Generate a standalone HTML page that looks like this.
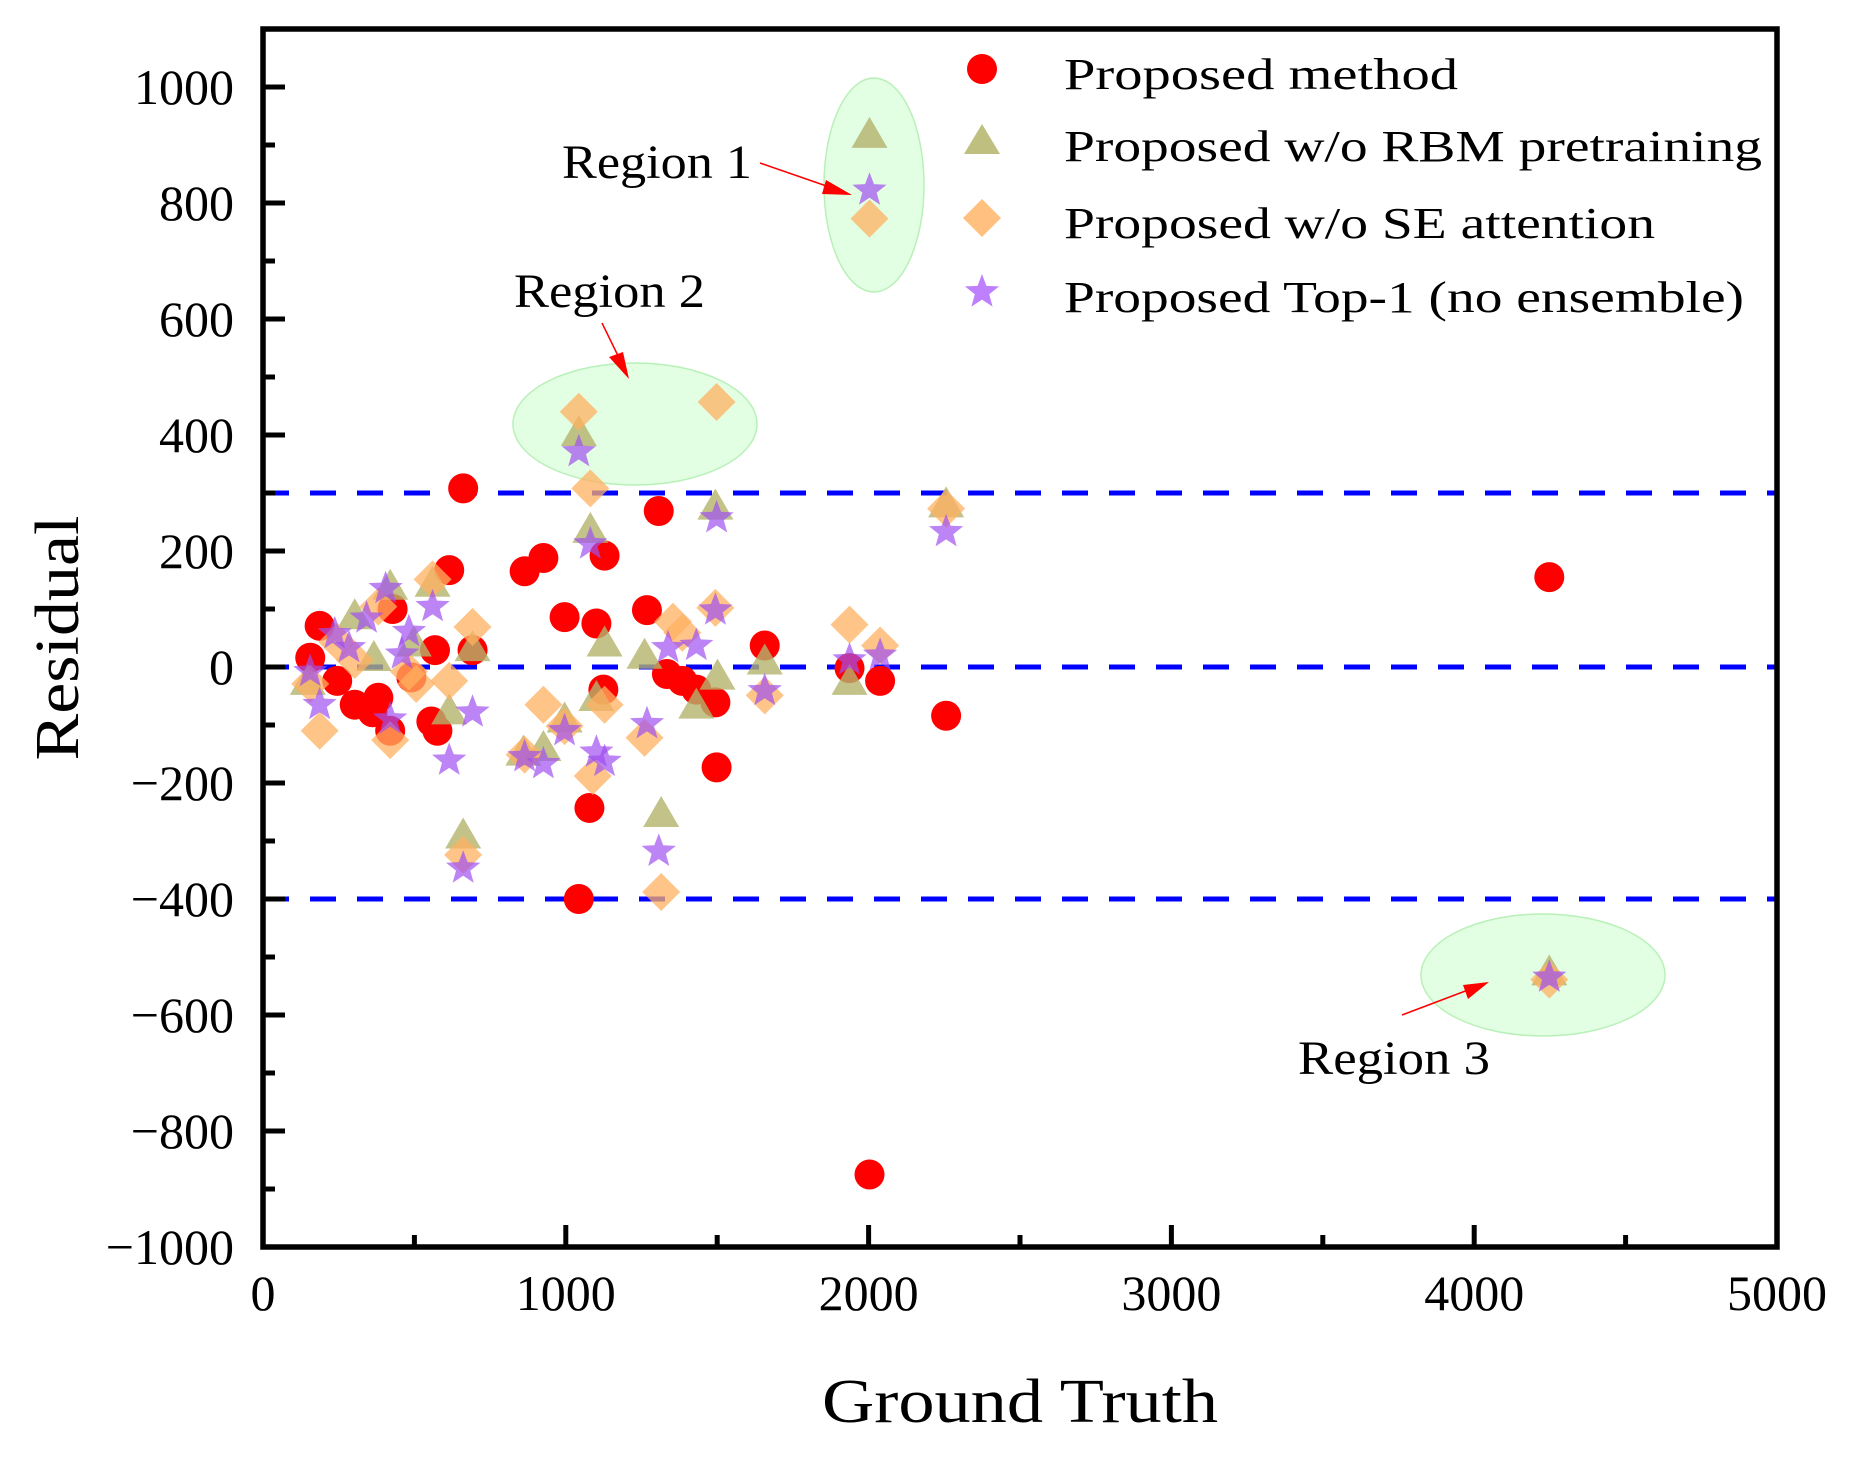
<!DOCTYPE html>
<html><head><meta charset="utf-8"><style>
html,body{margin:0;padding:0;background:#fff;}
svg{display:block;font-family:"Liberation Serif",serif;}
</style></head><body>
<svg id="chart" width="1849" height="1458" viewBox="0 0 1849 1458" xmlns="http://www.w3.org/2000/svg">
<g id="regions">
<ellipse cx="874" cy="185" rx="50" ry="107" fill="#ccffcc" fill-opacity="0.55" stroke="#b8f0b8" stroke-width="1.5"/>
<ellipse cx="635" cy="424" rx="122" ry="61" fill="#ccffcc" fill-opacity="0.55" stroke="#b8f0b8" stroke-width="1.5"/>
<ellipse cx="1543" cy="975" rx="122" ry="61" fill="#ccffcc" fill-opacity="0.55" stroke="#b8f0b8" stroke-width="1.5"/>
</g>
<g id="reflines"></g>
<g id="marks"></g>
<g id="axes"></g>
<g id="annot">
<text x="562" y="178" font-size="48" textLength="190" lengthAdjust="spacingAndGlyphs">Region 1</text>
<line x1="760" y1="163" x2="838" y2="190" stroke="#f00" stroke-width="1.5"/>
<polygon points="852,195 822,194 826,180" fill="#f00"/>
<text x="514" y="307" font-size="48" textLength="191" lengthAdjust="spacingAndGlyphs">Region 2</text>
<line x1="602" y1="323" x2="624" y2="368" stroke="#f00" stroke-width="1.5"/>
<polygon points="629,379 609,357 623,352" fill="#f00"/>
<text x="1298" y="1074" font-size="48" textLength="192" lengthAdjust="spacingAndGlyphs">Region 3</text>
<line x1="1402" y1="1015" x2="1476" y2="987" stroke="#f00" stroke-width="1.5"/>
<polygon points="1489,982 1468,999 1463,985" fill="#f00"/>
</g>
<g id="legend">
<circle cx="982" cy="69" r="15" fill="#ff0000"/>
<text x="1064" y="89" font-size="44" textLength="394" lengthAdjust="spacingAndGlyphs">Proposed method</text>
<polygon points="982,124 1000,154 964,154" fill="#bfbf80"/>
<text x="1064" y="161" font-size="44" textLength="698" lengthAdjust="spacingAndGlyphs">Proposed w/o RBM pretraining</text>
<polygon points="982,199 1001,218 982,237 963,218" fill="#ffc080"/>
<text x="1064" y="238" font-size="44" textLength="591" lengthAdjust="spacingAndGlyphs">Proposed w/o SE attention</text>
<g id="legstar"></g>
<text x="1064" y="312" font-size="44" textLength="680" lengthAdjust="spacingAndGlyphs">Proposed Top-1 (no ensemble)</text>
</g>
<text x="1020" y="1422" font-size="62" text-anchor="middle" textLength="396" lengthAdjust="spacingAndGlyphs">Ground Truth</text>
<text x="0" y="0" font-size="62" text-anchor="middle" transform="translate(78,638) rotate(-90)" textLength="245" lengthAdjust="spacingAndGlyphs">Residual</text>
</svg>
<script>
const xTicks = [0, 1000, 2000, 3000, 4000, 5000];
const yTicks = [-1000, -800, -600, -400, -200, 0, 200, 400, 600, 800, 1000];
const refLines = [300, 0, -400];
const redX = [156,187,245,303,362,381,420,428,490,556,576,568,615,661,692,864,926,996,1043,1078,1101,1128,1124,1268,1307,1334,1385,1431,1494,1498,1657,1937,2003,2038,2256,4248];
const redY = [16,71,-24,-65,-78,-53,-110,100,-18,-94,-110,29,167,308,29,165,188,86,-400,-243,75,192,-39,98,269,-12,-24,-39,-61,-173,37,-2,-875,-24,-84,155];
const triX = [560,615,661,692,420,303,148,860,926,996,1043,1081,1128,1101,1260,1315,1431,1494,1501,1657,1937,2003,2256,4248,498,366];
const triY = [140,-80,-294,29,135,84,-29,-151,-143,-94,400,233,37,-57,16,-257,-70,273,-20,6,-29,914,277,-530,37,12];
const diaX = [156,187,245,303,420,482,560,615,661,692,864,926,996,1043,1081,1089,1128,1260,1315,1354,1385,1494,1498,1657,1937,2003,2038,2256,4248,381,506];
const diaY = [-29,-110,43,12,-126,-8,151,-24,-324,69,-151,-65,-102,440,308,-188,-65,-122,-388,78,59,102,457,-49,73,773,37,273,-539,104,-29];
const starX = [156,187,237,284,342,405,420,459,482,560,615,661,692,864,926,996,1043,1081,1101,1128,1268,1307,1338,1431,1494,1498,1657,1937,2003,2038,2256,4248];
const starY = [-8,-65,57,33,84,135,-90,22,61,104,-161,-347,-78,-155,-167,-110,371,212,-147,-163,-98,-318,33,37,98,257,-41,12,822,20,233,-535];

const NS = 'http://www.w3.org/2000/svg';
const L = 263, R = 1777, T = 29, B = 1247;
const sx = v => L + v * (R - L) / 5000;
const sy = v => 87 + (1000 - v) * 0.58;
function mk(tag, attrs, parent) {
  const e = document.createElementNS(NS, tag);
  for (const k in attrs) e.setAttribute(k, attrs[k]);
  parent.appendChild(e);
  return e;
}
function starPts(cx, cy, r) {
  const p = [];
  for (let i = 0; i < 10; i++) {
    const rr = i % 2 ? r * 0.42 : r;
    const a = -Math.PI / 2 + i * Math.PI / 5;
    p.push((cx + rr * Math.cos(a)).toFixed(1) + ',' + (cy + rr * Math.sin(a)).toFixed(1));
  }
  return p.join(' ');
}
const legStar = mk('polygon', {points: starPts(982, 292, 18), fill: '#bf80ff'}, document.getElementById('legstar'));



const refG = document.getElementById('reflines');
refLines.forEach(v => {
  const l = mk('line', {x1: L, x2: R, y1: sy(v), y2: sy(v), stroke: '#0000ff', 'stroke-width': 5, 'stroke-dasharray': '26 21'}, refG);
  
  
});

const g = document.getElementById('marks');
redX.forEach((x, i) => {
  const c = mk('circle', {cx: sx(x), cy: sy(redY[i]), r: 15, fill: '#ff0000'}, g);
  
  
});
triX.forEach((x, i) => {
  const cx = sx(x), cy = sy(triY[i]);
  const t = mk('polygon', {points: `${cx},${cy-20} ${cx+18},${cy+11} ${cx-18},${cy+11}`, fill: '#b3b36b', 'fill-opacity': 0.8}, g);
  
  
});
diaX.forEach((x, i) => {
  const cx = sx(x), cy = sy(diaY[i]);
  const d = mk('polygon', {points: `${cx},${cy-19} ${cx+19},${cy} ${cx},${cy+19} ${cx-19},${cy}`, fill: '#ffb060', 'fill-opacity': 0.75}, g);
  
  
});
starX.forEach((x, i) => {
  const s = mk('polygon', {points: starPts(sx(x), sy(starY[i]), 18), fill: '#a050f0', 'fill-opacity': 0.7}, g);
  
  
});

const ax = document.getElementById('axes');
const frame = mk('rect', {x: L, y: T, width: R - L, height: B - T, fill: 'none', stroke: '#000', 'stroke-width': 5.5}, ax);


xTicks.forEach((v, i) => {
  const x = sx(v);
  mk('line', {x1: x, x2: x, y1: B, y2: B - 22, stroke: '#000', 'stroke-width': 5}, ax);
  if (i < xTicks.length - 1) {
    const xm = sx(v + 500);
    mk('line', {x1: xm, x2: xm, y1: B, y2: B - 12, stroke: '#000', 'stroke-width': 5}, ax);
  }
  const t = mk('text', {x: x, y: 1310, 'font-size': 50, 'text-anchor': 'middle'}, ax);
  t.textContent = String(v);
  
  
});
yTicks.forEach((v, i) => {
  const y = sy(v);
  mk('line', {x1: L, x2: L + 22, y1: y, y2: y, stroke: '#000', 'stroke-width': 5}, ax);
  const ym = sy(v + 100);
  mk('line', {x1: L, x2: L + 12, y1: ym, y2: ym, stroke: '#000', 'stroke-width': 5}, ax);
  const t = mk('text', {x: 234, y: y + 17, 'font-size': 50, 'text-anchor': 'end'}, ax);
  t.textContent = v < 0 ? '\u2212' + Math.abs(v) : String(v);
  
  
});
</script>
</body></html>
